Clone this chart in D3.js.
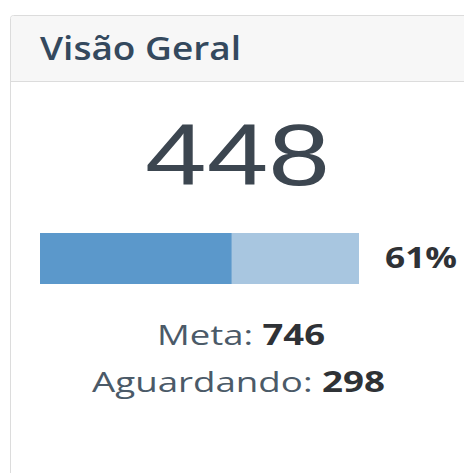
<!DOCTYPE html>
<html>
<head>
<meta charset="utf-8">
<script src="https://cdn.jsdelivr.net/npm/d3@7"></script>
<style>
  html, body { margin: 0; padding: 0; background: #fff; }
  svg { display: block; font-family: "Open Sans", sans-serif; }
</style>
</head>
<body>
<svg id="panel" width="464" height="473"></svg>
<script>
var titleText = "Visão Geral";
var totalValue = 448;
var goalValue = 746;
var waitingValue = 298;
var percentLabel = "61%";
var statLabels = ["Meta: ", "Aguardando: "];
var statValues = [goalValue, waitingValue];

var svg = d3.select("#panel");

// panel box, runs off right and bottom
svg.append("rect")
  .attr("x", 10.5).attr("y", 15.5)
  .attr("width", 470).attr("height", 480)
  .attr("rx", 3)
  .attr("fill", "#fff")
  .attr("stroke", "#dcdcdc");

svg.append("path")
  .attr("d", "M11,81 V18.5 Q11,16 14,16 H464 V81 Z")
  .attr("fill", "#f7f7f7");

svg.append("line")
  .attr("x1", 11).attr("x2", 464)
  .attr("y1", 81.5).attr("y2", 81.5)
  .attr("stroke", "#dcdcdc");

svg.append("text")
  .attr("x", 40).attr("y", 60)
  .attr("font-size", 33)
  .attr("font-weight", 600)
  .attr("fill", "#34495e")
  .attr("textLength", 201)
  .attr("lengthAdjust", "spacingAndGlyphs")
  .text(titleText);

// big number
svg.append("text")
  .attr("x", 145).attr("y", 185)
  .attr("font-family", "'Liberation Sans', Arial, sans-serif")
  .attr("font-size", 88)
  .attr("fill", "#3c4650")
  .attr("textLength", 185)
  .attr("lengthAdjust", "spacingAndGlyphs")
  .text(totalValue);

// progress bar
var x = d3.scaleLinear().domain([0, goalValue]).range([40, 359]);
var y = d3.scaleBand().domain(["bar"]).range([233, 284]);

svg.append("rect")
  .attr("x", x(0)).attr("y", y("bar"))
  .attr("width", x(goalValue) - x(0))
  .attr("height", y.bandwidth())
  .attr("fill", "#a8c6e0");

svg.append("rect")
  .attr("x", x(0)).attr("y", y("bar"))
  .attr("width", x(totalValue) - x(0))
  .attr("height", y.bandwidth())
  .attr("fill", "#5b98cb");

svg.append("text")
  .attr("x", 385).attr("y", 268)
  .attr("font-size", 29)
  .attr("font-weight", 700)
  .attr("fill", "#2f3236")
  .attr("textLength", 72)
  .attr("lengthAdjust", "spacingAndGlyphs")
  .text(percentLabel);

// stats lines
var statBox = [[157, 325, 345], [92, 385, 392]];
statLabels.forEach(function (lab, i) {
  var t = svg.append("text")
    .attr("x", statBox[i][0]).attr("y", statBox[i][2])
    .attr("font-size", 28)
    .attr("textLength", statBox[i][1] - statBox[i][0])
    .attr("lengthAdjust", "spacingAndGlyphs");
  t.append("tspan").attr("fill", "#4b5a68").text(lab);
  t.append("tspan").attr("fill", "#2f3236").attr("font-weight", 700).text(statValues[i]);
});
</script>
</body>
</html>
